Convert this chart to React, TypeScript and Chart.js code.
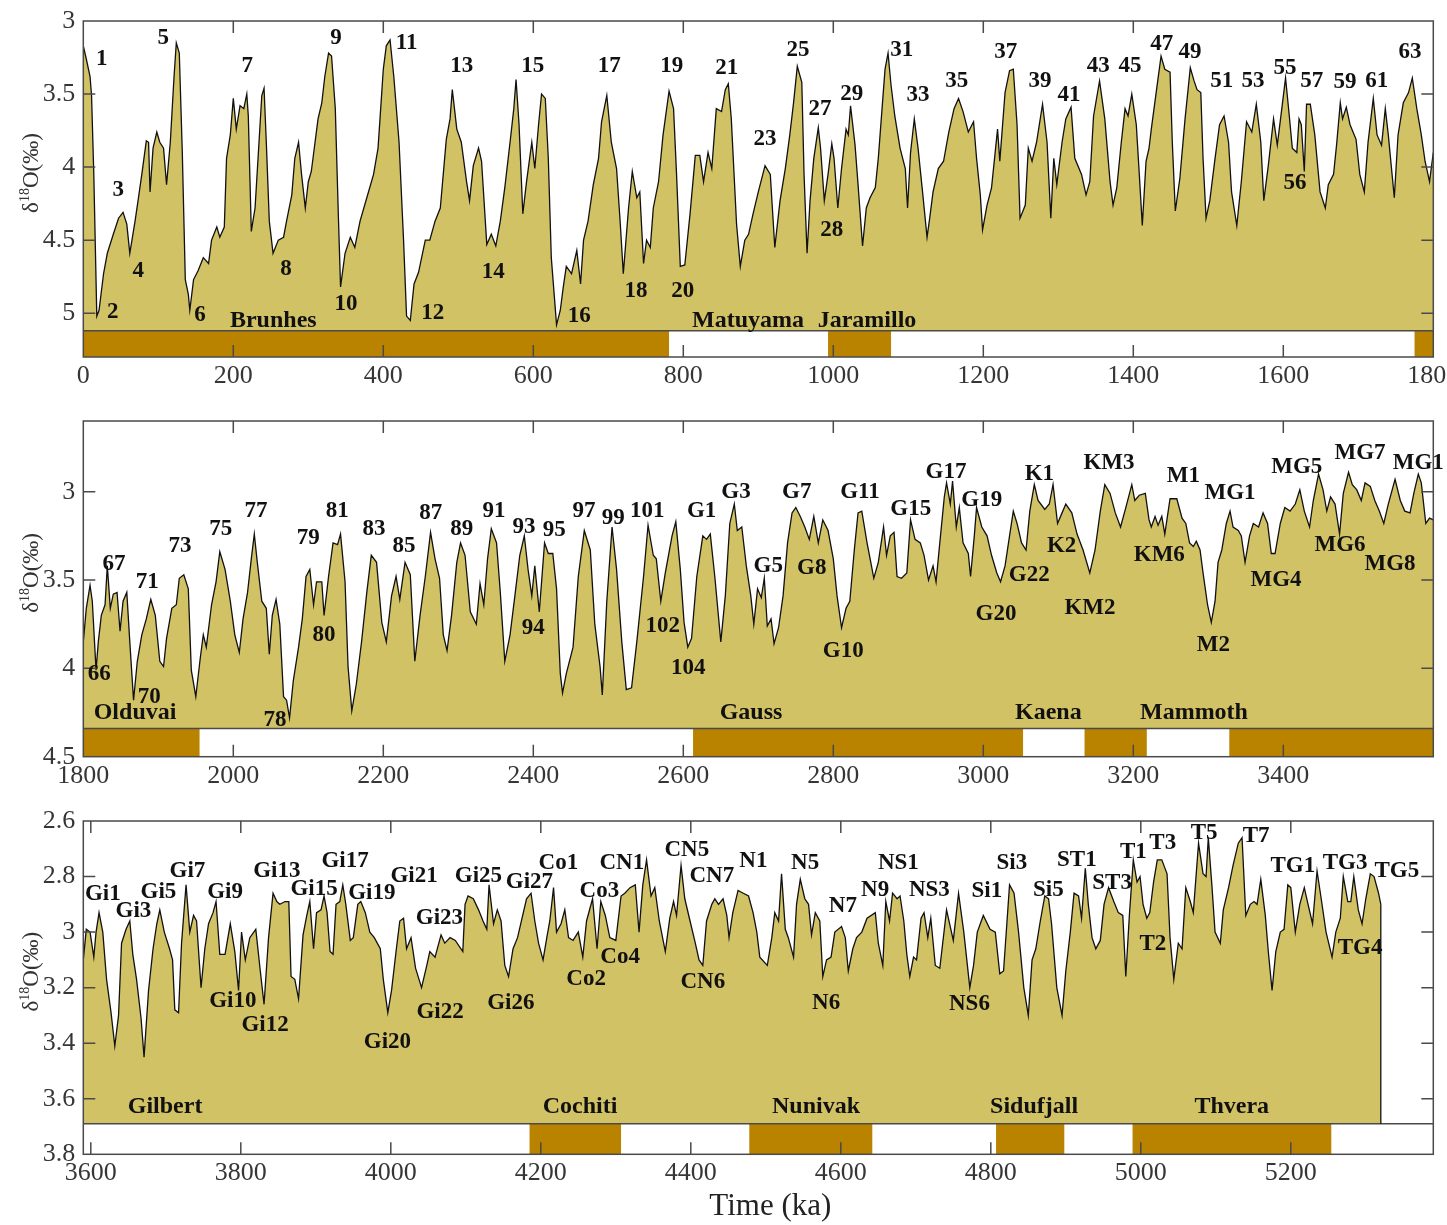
import React, { useEffect, useRef } from "react";
import { Chart, registerables } from "chart.js";

Chart.register(...registerables);

// ---------- DATA ----------
// Panel 1: 0-1800 ka  [age (ka), δ18O (‰)]
const stack1: number[][] = [
  [0,3.17],[4,3.26],[9,3.38],[11,3.51],[14,4.05],[18,5.02],[21,4.98],[27,4.73],[32,4.59],[40,4.46],[47,4.35],[53,4.31],[58,4.39],[62,4.59],[69,4.37],[73,4.23],[78,4.05],[84,3.82],[87,3.83],[89,4.17],[93,3.87],[98,3.76],[102,3.83],[107,3.87],[111,4.12],[116,3.83],[121,3.38],[124,3.15],[128,3.22],[132,3.90],[136,4.77],[140,4.87],[142,4.98],[147,4.77],[153,4.71],[160,4.62],[167,4.66],[171,4.50],[178,4.41],[182,4.48],[188,4.41],[191,3.94],[196,3.78],[200,3.53],[204,3.74],[209,3.58],[214,3.60],[218,3.50],[220,3.65],[224,4.44],[229,4.28],[233,3.94],[238,3.51],[241,3.46],[244,3.83],[248,4.37],[253,4.59],[260,4.50],[267,4.48],[271,4.37],[278,4.19],[282,3.94],[287,3.83],[291,4.05],[296,4.28],[300,4.10],[304,4.03],[309,3.83],[313,3.67],[318,3.56],[322,3.38],[327,3.22],[331,3.24],[336,3.60],[340,4.32],[343,4.82],[349,4.59],[356,4.48],[362,4.55],[369,4.37],[378,4.21],[387,4.05],[393,3.87],[400,3.33],[404,3.17],[409,3.13],[414,3.38],[421,3.83],[427,4.50],[431,5.02],[436,5.05],[441,4.80],[447,4.72],[456,4.50],[462,4.50],[469,4.37],[476,4.28],[484,3.81],[489,3.67],[492,3.47],[498,3.74],[504,3.83],[511,4.10],[515,4.23],[520,3.99],[527,3.87],[531,3.96],[538,4.53],[544,4.46],[550,4.54],[556,4.37],[562,4.14],[569,3.83],[574,3.60],[577,3.40],[581,3.71],[586,4.32],[591,4.10],[598,3.83],[602,4.01],[607,3.71],[611,3.50],[616,3.53],[620,3.94],[624,4.62],[631,5.08],[636,4.98],[640,4.82],[644,4.68],[651,4.73],[658,4.57],[663,4.80],[667,4.50],[673,4.37],[680,4.12],[687,3.94],[691,3.69],[698,3.51],[704,3.83],[711,4.01],[716,4.39],[720,4.73],[727,4.28],[732,4.03],[738,4.21],[742,4.17],[747,4.66],[751,4.50],[756,4.55],[760,4.28],[767,4.10],[773,3.78],[781,3.48],[787,3.60],[791,4.05],[796,4.68],[802,4.67],[809,4.32],[816,3.92],[822,3.92],[827,4.10],[833,3.90],[838,4.01],[844,3.60],[851,3.62],[856,3.47],[860,3.43],[864,3.67],[871,4.39],[876,4.68],[882,4.50],[887,4.46],[893,4.32],[900,4.17],[909,3.99],[916,4.05],[922,4.55],[929,4.23],[936,4.01],[942,3.78],[947,3.56],[952,3.31],[958,3.42],[961,4.05],[965,4.59],[969,4.23],[974,3.94],[980,3.73],[983,3.87],[988,4.23],[993,4.05],[998,3.84],[1001,3.94],[1006,4.28],[1011,4.01],[1017,3.74],[1020,3.78],[1023,3.58],[1029,3.85],[1033,4.12],[1039,4.54],[1044,4.28],[1049,4.21],[1056,4.14],[1060,3.94],[1065,3.60],[1069,3.33],[1073,3.22],[1077,3.44],[1082,3.65],[1089,3.87],[1096,4.01],[1099,4.28],[1103,3.90],[1108,3.67],[1113,3.87],[1119,4.17],[1125,4.48],[1128,4.37],[1133,4.17],[1140,4.01],[1147,3.96],[1154,3.76],[1161,3.60],[1167,3.53],[1173,3.62],[1180,3.76],[1187,3.69],[1191,3.94],[1196,4.19],[1199,4.43],[1205,4.26],[1211,4.14],[1219,3.74],[1222,3.96],[1229,3.49],[1235,3.34],[1240,3.33],[1245,3.71],[1249,4.35],[1256,4.26],[1260,3.87],[1265,3.96],[1271,3.83],[1279,3.57],[1285,3.83],[1290,4.35],[1294,3.94],[1298,4.12],[1305,3.83],[1310,3.67],[1317,3.59],[1322,3.94],[1331,4.05],[1337,4.19],[1342,4.10],[1347,3.65],[1355,3.41],[1362,3.67],[1369,4.10],[1373,4.26],[1378,4.14],[1384,3.83],[1389,3.60],[1393,3.65],[1398,3.50],[1404,3.71],[1408,4.05],[1412,4.40],[1417,3.96],[1421,3.87],[1424,3.74],[1431,3.47],[1437,3.24],[1442,3.33],[1449,3.35],[1452,3.83],[1456,4.30],[1462,4.08],[1469,3.67],[1476,3.32],[1481,3.41],[1485,3.47],[1490,3.49],[1493,3.94],[1497,4.35],[1502,4.23],[1509,3.94],[1515,3.71],[1521,3.65],[1527,3.83],[1531,4.17],[1538,4.40],[1544,4.10],[1551,3.69],[1558,3.76],[1564,3.57],[1570,3.83],[1574,4.23],[1580,3.99],[1587,3.67],[1592,3.85],[1598,3.60],[1603,3.39],[1608,3.65],[1612,3.87],[1618,3.90],[1621,3.67],[1624,3.71],[1628,4.03],[1631,3.57],[1636,3.57],[1642,3.78],[1649,4.17],[1656,4.28],[1660,4.12],[1667,4.05],[1671,3.85],[1676,3.56],[1679,3.67],[1684,3.59],[1689,3.71],[1697,3.81],[1702,4.05],[1708,4.17],[1713,3.83],[1720,3.53],[1725,3.78],[1731,3.85],[1736,3.60],[1740,3.78],[1748,4.21],[1753,3.78],[1760,3.56],[1767,3.49],[1772,3.39],[1778,3.60],[1784,3.78],[1789,3.96],[1795,4.10],[1800,3.90]
];

// Panel 2: 1800-3600 ka
const stack2: number[][] = [
  [1800,3.85],[1804,3.66],[1809,3.53],[1812,3.62],[1817,4.01],[1820,3.85],[1824,3.70],[1829,3.64],[1832,3.42],[1836,3.66],[1840,3.58],[1845,3.57],[1849,3.79],[1853,3.62],[1858,3.57],[1862,3.85],[1867,4.18],[1872,3.96],[1878,3.81],[1884,3.72],[1890,3.61],[1896,3.70],[1902,3.96],[1907,3.99],[1911,3.83],[1918,3.66],[1924,3.64],[1928,3.49],[1934,3.47],[1940,3.55],[1944,4.01],[1950,4.16],[1956,3.94],[1960,3.81],[1964,3.88],[1971,3.64],[1977,3.51],[1982,3.34],[1989,3.44],[1996,3.62],[2002,3.81],[2008,3.91],[2013,3.72],[2019,3.57],[2024,3.38],[2028,3.24],[2032,3.40],[2038,3.62],[2044,3.66],[2048,3.92],[2052,3.70],[2057,3.61],[2062,3.75],[2067,4.16],[2071,4.18],[2075,4.28],[2080,4.07],[2087,3.88],[2092,3.72],[2097,3.48],[2102,3.44],[2107,3.64],[2111,3.51],[2118,3.51],[2121,3.70],[2127,3.48],[2133,3.29],[2139,3.30],[2143,3.24],[2149,3.51],[2153,3.99],[2158,4.24],[2164,4.09],[2171,3.85],[2178,3.57],[2184,3.36],[2191,3.40],[2198,3.74],[2204,3.85],[2211,3.59],[2217,3.48],[2222,3.61],[2229,3.40],[2236,3.47],[2242,3.96],[2249,3.70],[2256,3.48],[2263,3.23],[2269,3.38],[2275,3.49],[2280,3.81],[2285,3.90],[2291,3.70],[2298,3.40],[2303,3.29],[2309,3.36],[2316,3.68],[2324,3.75],[2329,3.52],[2334,3.64],[2339,3.38],[2344,3.21],[2351,3.29],[2356,3.57],[2362,3.96],[2369,3.81],[2376,3.57],[2382,3.36],[2388,3.25],[2393,3.44],[2398,3.59],[2402,3.42],[2408,3.68],[2415,3.29],[2420,3.35],[2426,3.35],[2431,3.55],[2436,4.03],[2439,4.14],[2444,4.03],[2453,3.88],[2460,3.48],[2468,3.22],[2476,3.33],[2482,3.75],[2489,3.99],[2492,4.15],[2498,3.62],[2505,3.20],[2511,3.44],[2518,3.85],[2524,4.12],[2531,4.11],[2538,3.85],[2547,3.48],[2553,3.19],[2560,3.36],[2564,3.38],[2570,3.62],[2576,3.46],[2585,3.25],[2590,3.17],[2596,3.44],[2601,3.74],[2606,3.88],[2611,3.83],[2618,3.48],[2626,3.25],[2631,3.27],[2636,3.24],[2642,3.48],[2650,3.85],[2656,3.59],[2662,3.18],[2668,3.07],[2672,3.22],[2678,3.20],[2684,3.42],[2690,3.59],[2694,3.75],[2699,3.55],[2704,3.60],[2708,3.49],[2712,3.76],[2717,3.72],[2721,3.86],[2727,3.77],[2733,3.59],[2739,3.29],[2745,3.12],[2750,3.09],[2756,3.14],[2762,3.20],[2768,3.27],[2774,3.14],[2780,3.29],[2786,3.16],[2793,3.22],[2800,3.38],[2805,3.59],[2811,3.77],[2817,3.66],[2822,3.62],[2828,3.33],[2833,3.12],[2838,3.11],[2845,3.29],[2850,3.40],[2854,3.49],[2860,3.40],[2867,3.20],[2871,3.36],[2876,3.25],[2881,3.23],[2885,3.48],[2891,3.49],[2898,3.46],[2903,3.16],[2909,3.27],[2916,3.29],[2921,3.36],[2927,3.50],[2933,3.42],[2937,3.51],[2942,3.29],[2948,3.03],[2951,2.95],[2956,3.07],[2959,2.94],[2964,3.20],[2968,3.09],[2973,3.29],[2980,3.35],[2983,3.48],[2988,3.25],[2991,3.09],[2998,3.20],[3005,3.25],[3011,3.36],[3018,3.46],[3023,3.51],[3029,3.42],[3035,3.25],[3040,3.11],[3045,3.18],[3051,3.29],[3057,3.33],[3062,3.11],[3068,2.96],[3073,3.05],[3082,3.10],[3088,3.07],[3093,2.96],[3099,3.18],[3105,3.12],[3110,3.07],[3118,3.12],[3125,3.24],[3133,3.33],[3142,3.46],[3149,3.33],[3156,3.11],[3162,2.96],[3169,3.01],[3176,3.12],[3183,3.20],[3190,3.09],[3198,2.96],[3202,3.05],[3208,3.02],[3216,3.01],[3221,3.16],[3224,3.20],[3229,3.14],[3233,3.19],[3238,3.14],[3242,3.24],[3249,3.04],[3258,3.04],[3265,3.15],[3270,3.18],[3275,3.29],[3280,3.31],[3284,3.28],[3289,3.33],[3293,3.46],[3299,3.64],[3304,3.74],[3309,3.62],[3313,3.40],[3318,3.33],[3324,3.18],[3329,3.11],[3333,3.20],[3340,3.22],[3344,3.25],[3349,3.40],[3355,3.25],[3360,3.18],[3367,3.20],[3373,3.12],[3379,3.18],[3384,3.35],[3389,3.35],[3396,3.18],[3402,3.09],[3409,3.11],[3416,3.07],[3422,2.99],[3428,3.11],[3435,3.20],[3440,3.05],[3447,2.90],[3453,2.99],[3458,3.11],[3463,3.03],[3469,3.07],[3475,3.24],[3480,3.01],[3487,2.89],[3492,2.96],[3498,2.99],[3504,3.05],[3509,2.95],[3516,2.97],[3522,3.05],[3528,3.11],[3534,3.18],[3540,3.07],[3549,2.93],[3556,3.05],[3562,3.11],[3569,3.12],[3574,3.01],[3580,2.90],[3584,2.95],[3590,3.18],[3595,3.15],[3600,3.16]
];

// Panel 3: 3590-5320 ka
const stack3: number[][] = [
  [3590,3.10],[3594,2.99],[3599,3.00],[3604,3.09],[3607,3.00],[3611,2.93],[3616,3.00],[3621,3.17],[3627,3.29],[3632,3.41],[3637,3.30],[3641,3.04],[3647,2.99],[3652,2.96],[3656,3.08],[3661,3.17],[3667,3.31],[3671,3.45],[3677,3.21],[3683,3.06],[3688,2.97],[3692,2.92],[3698,3.00],[3705,3.06],[3709,3.10],[3712,3.28],[3717,3.29],[3721,3.04],[3727,2.83],[3732,3.00],[3737,2.94],[3741,2.96],[3747,3.20],[3752,3.06],[3757,2.97],[3763,2.93],[3767,2.89],[3772,3.08],[3779,3.08],[3786,2.97],[3792,3.07],[3797,3.21],[3801,3.00],[3806,3.10],[3812,3.02],[3820,2.99],[3826,3.14],[3831,3.26],[3837,3.02],[3843,2.86],[3848,2.89],[3852,2.90],[3859,2.89],[3864,2.89],[3867,3.16],[3872,3.17],[3877,3.24],[3883,3.01],[3888,2.94],[3892,2.89],[3897,3.06],[3901,2.93],[3907,2.92],[3911,2.87],[3915,2.93],[3919,3.07],[3923,3.08],[3927,2.90],[3932,2.89],[3936,2.83],[3940,2.90],[3946,3.03],[3950,3.02],[3956,2.90],[3960,2.89],[3966,2.93],[3972,3.00],[3978,3.02],[3986,3.06],[3990,3.17],[3996,3.29],[4001,3.21],[4007,3.07],[4012,2.96],[4017,2.95],[4021,3.06],[4027,3.02],[4033,3.13],[4041,3.20],[4048,3.12],[4052,3.07],[4059,3.09],[4067,3.01],[4072,3.04],[4079,3.02],[4086,3.03],[4096,3.07],[4099,2.90],[4103,2.87],[4110,2.88],[4117,2.92],[4123,2.96],[4128,2.99],[4131,2.83],[4137,2.97],[4142,2.92],[4147,2.96],[4152,3.12],[4157,3.16],[4163,3.06],[4169,3.02],[4175,2.95],[4181,2.88],[4187,2.86],[4192,2.96],[4197,3.04],[4203,3.10],[4208,3.02],[4212,2.96],[4217,2.84],[4221,3.00],[4227,2.97],[4232,2.92],[4237,3.02],[4243,3.03],[4250,3.00],[4256,3.09],[4261,2.96],[4269,2.88],[4275,3.06],[4280,2.89],[4286,2.94],[4292,3.02],[4300,3.03],[4307,2.87],[4312,2.86],[4319,2.84],[4326,2.83],[4331,3.00],[4336,2.83],[4341,2.74],[4347,2.87],[4352,2.84],[4358,2.96],[4366,3.07],[4372,2.95],[4377,2.89],[4381,2.94],[4387,2.76],[4392,2.88],[4399,2.96],[4406,3.04],[4411,3.10],[4416,3.12],[4421,2.96],[4428,2.90],[4432,2.88],[4437,2.90],[4443,2.88],[4448,2.94],[4451,3.02],[4456,2.93],[4463,2.85],[4470,2.86],[4477,2.87],[4483,2.93],[4488,3.00],[4492,3.09],[4502,3.12],[4508,3.02],[4512,2.93],[4517,2.96],[4521,2.79],[4526,2.99],[4530,3.02],[4537,3.09],[4541,2.90],[4546,2.81],[4552,2.88],[4557,2.90],[4561,3.01],[4566,2.93],[4572,2.96],[4576,3.16],[4581,3.10],[4587,3.09],[4592,3.00],[4601,2.98],[4606,3.02],[4610,3.14],[4616,3.06],[4621,3.02],[4628,3.00],[4635,2.95],[4646,2.93],[4650,3.04],[4656,3.12],[4660,2.89],[4665,2.96],[4669,2.86],[4675,2.88],[4679,2.87],[4684,2.96],[4688,3.08],[4692,3.16],[4697,3.09],[4701,3.10],[4707,2.95],[4711,2.93],[4716,3.02],[4720,2.95],[4726,3.12],[4732,3.13],[4741,2.92],[4750,3.03],[4757,2.86],[4764,3.00],[4772,3.20],[4777,3.12],[4782,3.00],[4790,2.94],[4799,2.99],[4806,3.00],[4812,3.15],[4817,3.14],[4825,2.83],[4831,2.86],[4837,3.00],[4844,3.20],[4850,3.30],[4855,3.10],[4860,3.06],[4866,2.96],[4872,2.87],[4877,2.88],[4881,2.97],[4888,3.20],[4895,3.30],[4900,3.14],[4906,3.00],[4911,2.86],[4917,2.87],[4921,2.95],[4926,2.77],[4930,2.90],[4935,3.02],[4940,3.06],[4946,3.03],[4951,2.90],[4957,2.84],[4964,2.89],[4970,2.93],[4976,2.94],[4980,3.16],[4985,2.93],[4990,2.74],[4995,2.82],[4999,2.80],[5003,2.90],[5008,2.95],[5012,2.93],[5017,2.82],[5022,2.74],[5028,2.74],[5035,2.79],[5039,3.02],[5044,3.17],[5050,3.04],[5055,3.06],[5060,2.84],[5066,2.89],[5070,2.93],[5077,2.68],[5083,2.79],[5087,2.80],[5090,2.66],[5095,2.84],[5099,3.00],[5106,3.04],[5110,2.92],[5117,2.84],[5123,2.76],[5130,2.68],[5135,2.66],[5140,2.94],[5146,2.90],[5151,2.89],[5155,2.90],[5160,2.81],[5166,2.94],[5170,3.07],[5175,3.21],[5180,3.07],[5186,3.00],[5191,2.99],[5196,2.83],[5200,2.84],[5206,3.00],[5212,2.90],[5218,2.84],[5223,2.90],[5229,2.97],[5235,2.78],[5240,2.87],[5247,3.00],[5255,3.09],[5260,3.00],[5266,2.95],[5270,2.80],[5276,2.89],[5280,2.89],[5284,2.80],[5290,2.92],[5295,2.97],[5300,2.88],[5306,2.79],[5311,2.80],[5317,2.86],[5320,2.90]
];

// Tick values
const xTicks1 = [0, 200, 400, 600, 800, 1000, 1200, 1400, 1600, 1800];
const xTicks2 = [1800, 2000, 2200, 2400, 2600, 2800, 3000, 3200, 3400];
const xTicks3 = [3600, 3800, 4000, 4200, 4400, 4600, 4800, 5000, 5200];
const yTicks1 = [3, 3.5, 4, 4.5, 5];
const yTicks2 = [3, 3.5, 4, 4.5];
const yTicks3 = [2.6, 2.8, 3, 3.2, 3.4, 3.6, 3.8];

// Normal-polarity intervals (ka)
const normal1 = [[0, 781], [993, 1077], [1775, 1800]];
const normal2 = [[1800, 1955], [2613, 3053], [3135, 3218], [3328, 3600]];
const normal3 = [[4185, 4307], [4478, 4642], [4807, 4898], [4989, 5254]];

// Stage labels [text, age, δ18O anchor]
const stages1: [string, number, number][] = [
  ["1",24.5,3.26],["2",39.2,4.99],["3",46.7,4.16],["4",73.3,4.71],["5",106.7,3.12],["6",155.6,5.01],["7",218.7,3.31],["8",270.3,4.70],["9",336.9,3.12],["10",350.3,4.94],["11",431.2,3.15],["12",465.9,5.00],["13",504.5,3.31],["14",546.7,4.72],["15",599.2,3.31],["16",661.3,5.02],["17",701.3,3.31],["18",736.9,4.85],["19",784.5,3.31],["20",799.2,4.85],["21",857.9,3.32],["23",908.9,3.81],["25",952.9,3.20],["27",982.3,3.60],["28",997.9,4.43],["29",1024.5,3.50],["31",1091.2,3.20],["33",1112.9,3.51],["35",1164.5,3.41],["37",1229.9,3.21],["39",1275.6,3.41],["41",1314.3,3.51],["43",1353.3,3.31],["45",1395.6,3.31],["47",1437.9,3.16],["49",1475.6,3.21],["51",1517.9,3.41],["53",1559.6,3.41],["55",1602.3,3.32],["56",1615.6,4.11],["57",1637.9,3.41],["59",1682.3,3.42],["61",1724.5,3.41],["63",1768.9,3.21]
];
const stages2: [string, number, number][] = [
  ["66",1821.3,4.03],["67",1840.9,3.41],["70",1888,4.16],["71",1885.3,3.51],["73",1928.9,3.31],["75",1983.2,3.21],["77",2030.3,3.11],["78",2055.6,4.29],["79",2100,3.26],["80",2120.9,3.81],["81",2138.7,3.11],["83",2187.6,3.21],["85",2227.6,3.31],["87",2263.2,3.12],["89",2304.5,3.21],["91",2347.6,3.11],["93",2387.6,3.20],["94",2400,3.77],["95",2428,3.22],["97",2467.6,3.11],["99",2506.7,3.15],["101",2552,3.11],["102",2572.5,3.76],["104",2606.7,4.00],["G1",2624.5,3.11],["G3",2670.3,3.00],["G5",2713.3,3.42],["G7",2751.2,3.00],["G8",2771.2,3.43],["G10",2813.3,3.90],["G11",2835.6,3.00],["G15",2903.2,3.10],["G17",2950.3,2.89],["G19",2997.9,3.05],["G20",3016.9,3.69],["G22",3061.3,3.47],["K1",3074.7,2.90],["K2",3104.5,3.31],["KM2",3142.3,3.66],["KM3",3167.6,2.84],["KM6",3234.7,3.36],["M1",3266.7,2.91],["M2",3306.7,3.87],["MG1",3328.9,3.01],["MG4",3390.3,3.50],["MG5",3417.9,2.86],["MG6",3475.6,3.30],["MG7",3502.3,2.78],["MG8",3542.3,3.41],["MG1",3580,2.84]
];
const stages3: [string, number, number][] = [
  ["Gi1",3616,2.862],["Gi3",3656.8,2.925],["Gi5",3690.1,2.856],["Gi7",3728.8,2.78],["Gi9",3779,2.856],["Gi10",3789.3,3.247],["Gi12",3832.4,3.336],["Gi13",3848,2.78],["Gi15",3897.7,2.844],["Gi17",3939,2.745],["Gi19",3974.7,2.859],["Gi20",3995.5,3.395],["Gi21",4031,2.80],["Gi22",4065.7,3.289],["Gi23",4064.8,2.95],["Gi25",4116.8,2.80],["Gi26",4160,3.256],["Gi27",4184.8,2.819],["Co1",4223.5,2.75],["Co2",4260.4,3.168],["Co3",4278.1,2.854],["Co4",4305.7,3.091],["CN1",4308,2.753],["CN5",4394.7,2.703],["CN6",4416,3.18],["CN7",4428,2.80],["N1",4483.5,2.745],["N5",4552.4,2.75],["N6",4580.4,3.256],["N7",4602.7,2.906],["N9",4645.7,2.85],["NS1",4676.8,2.75],["NS3",4718.1,2.85],["NS6",4771.5,3.259],["Si1",4794.7,2.854],["Si3",4828,2.75],["Si5",4876.8,2.85],["ST1",4914.7,2.739],["ST3",4961.7,2.822],["T1",4990.1,2.713],["T2",5016,3.042],["T3",5029.3,2.68],["T5",5084.4,2.642],["T7",5153.7,2.654],["TG1",5202.7,2.762],["TG3",5272.4,2.75],["TG4",5292.4,3.059],["TG5",5341.3,2.78]
];

// Chron labels
const chrons1: [string, number, number][] = [["Brunhes",253.3,5.05],["Matuyama",886.3,5.05],["Jaramillo",1044.9,5.05]];
const chrons2: [string, number, number][] = [["Olduvai",1869,4.25],["Gauss",2690.3,4.25],["Kaena",3086.7,4.25],["Mammoth",3280.9,4.25]];
const chrons3: [string, number, number][] = [["Gilbert",3699,3.63],["Cochiti",4252.4,3.63],["Nunivak",4567,3.63],["Sidufjall",4857.7,3.63],["Thvera",5121.3,3.63]];

// ---------- STYLE / LAYOUT ----------
const SERIF = '"Liberation Serif", "Times New Roman", serif';
const FILL = "rgb(210,194,102)";
const BROWN = "rgb(185,131,0)";
const FRAME = "#4a4a4a";
const TICK_TEXT = "#363636";
const CANVAS_W = 1480;
const AREA_LEFT = 83.3;
const AREA_RIGHT = 1433.3;

Chart.defaults.font.family = SERIF;

interface PanelCfg {
  series: number[][];
  xMin: number; xMax: number; yMin: number; yMax: number; base: number;
  xTicks: number[]; yTicks: number[];
  normal: number[][];
  stages: [string, number, number][];
  chrons: [string, number, number][];
  top: number; height: number; areaTop: number; areaBottom: number;
  timeTitle: boolean;
}

const panels: PanelCfg[] = [
  { series: stack1, xMin: 0, xMax: 1800, yMin: 3, yMax: 5.3, base: 5.12, xTicks: xTicks1, yTicks: yTicks1, normal: normal1, stages: stages1, chrons: chrons1, top: 0, height: 400, areaTop: 16, areaBottom: 357, timeTitle: false },
  { series: stack2, xMin: 1800, xMax: 3600, yMin: 2.6, yMax: 4.5, base: 4.34, xTicks: xTicks2, yTicks: yTicks2, normal: normal2, stages: stages2, chrons: chrons2, top: 400, height: 400, areaTop: 15, areaBottom: 356.7, timeTitle: false },
  { series: stack3, xMin: 3590, xMax: 5390, yMin: 2.6, yMax: 3.8, base: 3.69, xTicks: xTicks3, yTicks: yTicks3, normal: normal3, stages: stages3, chrons: chrons3, top: 800, height: 425, areaTop: 14, areaBottom: 354.3, timeTitle: true },
];

function drawYTitle(ctx: CanvasRenderingContext2D, cx: number, cy: number) {
  ctx.save();
  ctx.translate(cx, cy);
  ctx.rotate(-Math.PI / 2);
  ctx.fillStyle = "#333";
  ctx.textAlign = "left";
  ctx.textBaseline = "alphabetic";
  const main = `23px ${SERIF}`;
  const sup = `14px ${SERIF}`;
  ctx.font = main;
  const w1 = ctx.measureText("δ").width;
  const w3 = ctx.measureText("O(‰)").width;
  ctx.font = sup;
  const w2 = ctx.measureText("18").width;
  let x = -(w1 + w2 + w3) / 2;
  const base = 7;
  ctx.font = main;
  ctx.fillText("δ", x, base);
  x += w1;
  ctx.font = sup;
  ctx.fillText("18", x, base - 9);
  x += w2;
  ctx.font = main;
  ctx.fillText("O(‰)", x, base);
  ctx.restore();
}

function decorPlugin(p: PanelCfg) {
  return {
    id: "decor",
    afterDatasetsDraw(chart: any) {
      const { ctx, chartArea: a } = chart;
      const xs = chart.scales.x;
      const ys = chart.scales.y;
      ctx.save();
      const yb = ys.getPixelForValue(p.base);
      // polarity strip
      ctx.fillStyle = "#fff";
      ctx.fillRect(a.left, yb, a.right - a.left, a.bottom - yb);
      ctx.fillStyle = BROWN;
      for (const [s, e] of p.normal) {
        const x0 = xs.getPixelForValue(Math.max(s, p.xMin));
        const x1 = xs.getPixelForValue(Math.min(e, p.xMax));
        ctx.fillRect(x0, yb, x1 - x0, a.bottom - yb);
      }
      ctx.strokeStyle = FRAME;
      ctx.lineWidth = 1.5;
      ctx.beginPath();
      ctx.moveTo(a.left, yb);
      ctx.lineTo(a.right, yb);
      ctx.stroke();
      // end of record
      const last = p.series[p.series.length - 1];
      if (last[0] < p.xMax) {
        const lx = xs.getPixelForValue(last[0]);
        ctx.strokeStyle = "#111";
        ctx.lineWidth = 1.3;
        ctx.beginPath();
        ctx.moveTo(lx, ys.getPixelForValue(last[1]));
        ctx.lineTo(lx, yb);
        ctx.stroke();
      }
      // frame
      ctx.strokeStyle = FRAME;
      ctx.lineWidth = 1.5;
      ctx.strokeRect(a.left, a.top, a.right - a.left, a.bottom - a.top);
      // inner ticks
      const TL = 12;
      ctx.beginPath();
      for (const v of p.xTicks) {
        const px = xs.getPixelForValue(v);
        if (px < a.left + 2 || px > a.right - 2) continue;
        ctx.moveTo(px, a.top); ctx.lineTo(px, a.top + TL);
        ctx.moveTo(px, a.bottom); ctx.lineTo(px, a.bottom - TL);
      }
      for (const v of p.yTicks) {
        const py = ys.getPixelForValue(v);
        if (py < a.top + 2 || py > a.bottom - 2) continue;
        ctx.moveTo(a.left, py); ctx.lineTo(a.left + TL, py);
        ctx.moveTo(a.right, py); ctx.lineTo(a.right - TL, py);
      }
      ctx.stroke();
      // labels
      ctx.fillStyle = "#111";
      ctx.textAlign = "center";
      ctx.textBaseline = "middle";
      ctx.font = `bold 23px ${SERIF}`;
      for (const [t, ax, av] of p.stages) {
        ctx.fillText(t, xs.getPixelForValue(ax), ys.getPixelForValue(av));
      }
      ctx.font = `bold 24px ${SERIF}`;
      for (const [t, ax, av] of p.chrons) {
        ctx.fillText(t, xs.getPixelForValue(ax), ys.getPixelForValue(av));
      }
      // axis titles
      drawYTitle(ctx, 31, (a.top + a.bottom) / 2 - 16);
      if (p.timeTitle) {
        ctx.fillStyle = "#222";
        ctx.font = `31px ${SERIF}`;
        ctx.textAlign = "center";
        ctx.textBaseline = "middle";
        ctx.fillText("Time (ka)", (a.left + a.right) / 2 + 12, a.bottom + 53);
      }
      ctx.restore();
    },
  };
}

function PanelChart({ cfg }: { cfg: PanelCfg }) {
  const ref = useRef<HTMLCanvasElement | null>(null);
  useEffect(() => {
    if (!ref.current) return;
    const tickFont = { family: SERIF, size: 26, lineHeight: 1, weight: "normal" };
    const chart = new Chart(ref.current, {
      type: "line",
      data: {
        datasets: [
          {
            data: cfg.series.map(([x, y]) => ({ x, y })),
            borderColor: "#111",
            borderWidth: 1.3,
            pointRadius: 0,
            tension: 0,
            fill: { value: cfg.base },
            backgroundColor: FILL,
          } as any,
        ],
      },
      options: {
        animation: false,
        responsive: false,
        events: [],
        font: { family: SERIF },
        layout: { padding: { left: 0, right: CANVAS_W - AREA_RIGHT, top: cfg.areaTop, bottom: 0 } },
        plugins: { legend: { display: false }, tooltip: { enabled: false } },
        scales: {
          x: {
            type: "linear",
            min: cfg.xMin,
            max: cfg.xMax,
            grid: { display: false, drawTicks: false },
            border: { display: false },
            ticks: {
              font: tickFont,
              color: TICK_TEXT,
              padding: 6,
              autoSkip: false,
              maxRotation: 0,
              callback: (v: any) => String(v),
            },
            afterBuildTicks: (s: any) => {
              s.ticks = cfg.xTicks.map((v) => ({ value: v }));
            },
            afterFit: (s: any) => {
              s.height = cfg.height - cfg.areaBottom;
            },
          },
          y: {
            type: "linear",
            reverse: true,
            min: cfg.yMin,
            max: cfg.yMax,
            grid: { display: false, drawTicks: false },
            border: { display: false },
            ticks: {
              font: tickFont,
              color: TICK_TEXT,
              padding: 8,
              callback: (v: any) => String(Math.round(Number(v) * 10) / 10),
            },
            afterBuildTicks: (s: any) => {
              s.ticks = cfg.yTicks.map((v) => ({ value: v }));
            },
            afterFit: (s: any) => {
              s.width = AREA_LEFT;
            },
          },
        },
      } as any,
      plugins: [decorPlugin(cfg)],
    });
    return () => chart.destroy();
  }, [cfg]);
  return (
    <canvas
      ref={ref}
      width={CANVAS_W}
      height={cfg.height}
      style={{ position: "absolute", left: 0, top: cfg.top, width: CANVAS_W, height: cfg.height }}
    />
  );
}

export default function App() {
  return (
    <div
      style={{
        position: "fixed",
        left: 0,
        top: 0,
        width: 1447,
        height: 1225,
        overflow: "hidden",
        background: "#fff",
      }}
    >
      {panels.map((p, i) => (
        <PanelChart key={i} cfg={p} />
      ))}
    </div>
  );
}
